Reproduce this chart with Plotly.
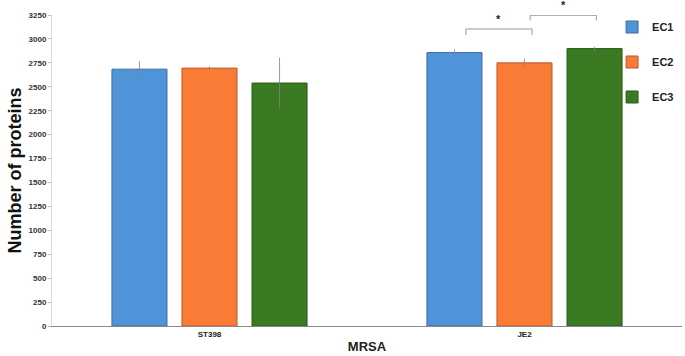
import plotly.graph_objects as go

categories = ["ST398", "JE2"]
series_names = ["EC1", "EC2", "EC3"]
ec1 = [2684, 2857]
ec2 = [2695, 2750]
ec3 = [2539, 2899]
ec1_err = [83, 35]
ec2_err = [20, 45]
ec3_err = [265, 20]
y_ticks = list(range(0, 3251, 250))
y_max = 3250

colors = ["#4F94D8", "#F97B36", "#3A7A23"]
edges = ["#3E6C9C", "#B65A2A", "#2C5C1A"]

fig = go.Figure()
for i, (name, vals, errs) in enumerate(zip(series_names, [ec1, ec2, ec3], [ec1_err, ec2_err, ec3_err])):
    fig.add_trace(go.Bar(
        x=categories, y=vals, name=f"<b>{name}</b>", legendgroup=name,
        marker=dict(color=colors[i], line=dict(color=edges[i], width=1)),
        error_y=dict(type="data", array=errs, visible=True, color="rgba(130,130,130,0.8)",
                     thickness=1, width=0),
    ))

# significance brackets (JE2 group, category index 1)
br = [(-0.186, 0.024, 3104, 3042, 3290), (0.018, 0.228, 3247, 3193, 3440)]
for x0, x1, ytop, yend, ystar in br:
    fig.add_shape(type="path", xref="x", yref="y",
                  path=f"M {1+x0},{yend} L {1+x0},{ytop} L {1+x1},{ytop} L {1+x1},{yend}",
                  line=dict(color="#9a9a9a", width=1))
    fig.add_annotation(x=1 + (x0 + x1) / 2, y=ystar / y_max, xref="x", yref="paper", text="<b>*</b>",
                       showarrow=False, font=dict(size=11, color="#222"))

fig.update_layout(
    width=685, height=356,
    margin=dict(l=52, r=3, t=15, b=30, autoexpand=False),
    paper_bgcolor="white", plot_bgcolor="white",
    barmode="group", bargap=0.333, bargroupgap=0.214,
    font=dict(family="Liberation Sans, Arial, sans-serif", color="#222"),
    showlegend=True,
    legend=dict(x=0.889, y=1.008, xanchor="left", yanchor="top", tracegroupgap=16,
                font=dict(size=11, color="#222"), itemwidth=30, bgcolor="rgba(0,0,0,0)",
                traceorder="grouped"),
    xaxis=dict(showline=True, linecolor="#8a8a8a", linewidth=1, ticks="", automargin=False,
               tickfont=dict(size=8, color="#222"),
               tickvals=categories, ticktext=[f"<b>{c}</b>" for c in categories],
               title=dict(text="<b>MRSA</b>", font=dict(size=13, color="#222"), standoff=4)),
    yaxis=dict(range=[0, y_max], showgrid=False, zeroline=False, showline=True, automargin=False,
               linecolor="#d9d9d9", linewidth=1, ticks="outside", ticklen=3, tickcolor="#bbbbbb",
               tickvals=y_ticks, ticktext=[f"<b>{v}</b>" for v in y_ticks],
               tickfont=dict(size=8, color="#333"),
               title=dict(text="<b>Number of proteins</b>", font=dict(size=18, color="#111"), standoff=2)),
)

fig.write_html("out.html", config={"displayModeBar": False},
               post_script="document.body.style.margin='0';document.body.style.overflow='hidden';")
